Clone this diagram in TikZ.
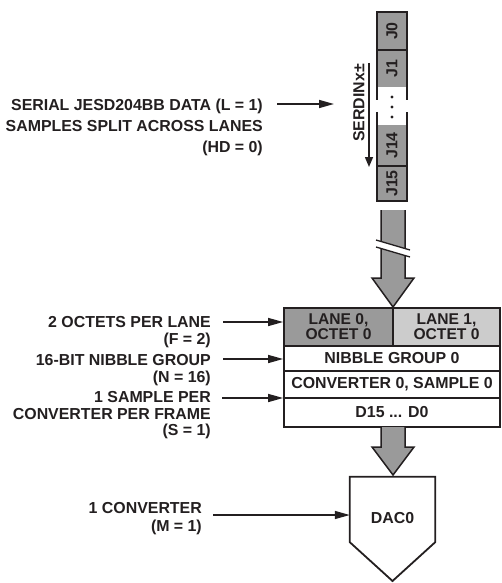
\documentclass[tikz,border=0pt]{standalone}
\usepackage{fontspec}
\setmainfont{Liberation Sans}
\usetikzlibrary{arrows.meta}
\definecolor{ink}{HTML}{231F20}
\definecolor{dgray}{HTML}{9A9A9A}
\definecolor{lgray}{HTML}{CCCCCC}
\begin{document}
\begin{tikzpicture}[x=1pt,y=-1pt,
  every node/.style={font=\fontsize{15.9}{17}\selectfont\bfseries, text=ink},
  lbl/.style={anchor=north east, inner sep=0pt, align=right},
  conn/.style={draw=ink, line width=1.5pt, -{Triangle[length=15pt,width=8pt]}},
  tcell/.style={draw=ink, line width=1.8pt, inner sep=0pt, align=center},
  jb/.style={draw=ink, line width=1.8pt},
  jlab/.style={rotate=90, inner sep=0pt},
  lanefont/.style={font=\fontsize{15.6}{15}\selectfont\bfseries}
]
\useasboundingbox (0,0) rectangle (502,583);

% ---- J column ----
\fill[dgray] (377,12) rectangle (407,87);
\fill[dgray] (377,125) rectangle (407,201);
\draw[jb] (377,100) -- (377,12) -- (407,12) -- (407,100);
\draw[jb] (377,50) -- (407,50);
\draw[jb] (377,112) -- (377,201) -- (407,201) -- (407,112);
\draw[jb] (377,166) -- (407,166);
\node[jlab] (j0) at (392,31) {J0};
\node[jlab] (j1) at (392,68.5) {J1};
\node[jlab] (j14) at (392,145.5) {J14};
\node[jlab] (j15) at (392,183.5) {J15};
\fill[ink] (392,97) circle (1.7);
\fill[ink] (392,107) circle (1.7);
\fill[ink] (392,117) circle (1.7);

% ---- SERDIN ----
\node[rotate=90, inner sep=0pt] (serdin) at (359,103) {SERDINx±};
\coordinate (sa) at (369,63);
\coordinate (sb) at (369,167);
\draw[draw=ink, line width=1.5pt, -{Triangle[length=10pt,width=8pt]}] (sa) -- (sb);

% ---- serial label ----
\node[lbl, font=\fontsize{15.9}{21}\selectfont\bfseries] (lserial) at (263,98.3)
  {SERIAL JESD204BB DATA (L = 1)\\SAMPLES SPLIT ACROSS LANES\\(HD = 0)};
\coordinate (aserial) at (277,104);
\coordinate (eserial) at (334,104);
\draw[conn] (aserial) -- (eserial);

% ---- big arrow 1 with break ----
\path[fill=dgray] (381,210) -- (381,278) -- (372,278) -- (393,307) -- (414,278) -- (405,278) -- (405,210) -- cycle;
\draw[draw=ink, line width=1.5pt, line join=miter] (381,210) -- (381,278) -- (372,278) -- (393,307) -- (414,278) -- (405,278) -- (405,210);
\fill[white] (376,240) -- (410,250) -- (410,257) -- (376,247) -- cycle;
\draw[draw=ink, line width=1.3pt] (376,240) -- (410,250);
\draw[draw=ink, line width=1.3pt] (376,247) -- (410,257);

% ---- table ----
\node[tcell, fill=dgray, minimum width=109pt, minimum height=38pt, lanefont] (lane0) at (338.5,327) {LANE 0,\\OCTET 0};
\node[tcell, fill=lgray, minimum width=107pt, minimum height=38pt, lanefont] (lane1) at (446.5,327) {LANE 1,\\OCTET 0};
\node[tcell, minimum width=216pt, minimum height=25pt] (nib) at (392,358.5) {NIBBLE GROUP 0};
\node[tcell, minimum width=216pt, minimum height=27pt] (conv) at (392,384.5) {CONVERTER 0, SAMPLE 0};
\node[tcell, minimum width=216pt, minimum height=29pt] (dd) at (392,412.5) {D15 ... D0};

% ---- table labels ----
\node[lbl] (lf) at (211,316.3) {2 OCTETS PER LANE\\(F = 2)};
\coordinate (af) at (223,322);
\draw[conn] (af) -- (af -| lane0.west);
\node[lbl] (ln) at (211,354.3) {16-BIT NIBBLE GROUP\\(N = 16)};
\coordinate (an) at (223,359);
\draw[conn] (an) -- (an -| nib.west);
\node[lbl, font=\fontsize{15.9}{16.5}\selectfont\bfseries] (ls) at (211,391.3) {1 SAMPLE PER\\CONVERTER PER FRAME\\(S = 1)};
\coordinate (as) at (222,398);
\draw[conn] (as) -- (as -| conv.west);

% ---- big arrow 2 ----
\path[fill=dgray] (381,427) -- (381,447) -- (372,447) -- (393,475) -- (414,447) -- (405,447) -- (405,427) -- cycle;
\draw[draw=ink, line width=1.5pt, line join=miter] (381,427) -- (381,447) -- (372,447) -- (393,475) -- (414,447) -- (405,447) -- (405,427);

% ---- DAC ----
\node[inner sep=0pt, minimum width=85pt, minimum height=65pt] (dac) at (392.5,509.5) {};
\draw[jb, line join=miter] (dac.north west) -- (dac.north east) -- (dac.south east) -- (392.5,581) -- (dac.south west) -- cycle;
\node (dactext) at (392.5,518) {DAC0};
\node[lbl, font=\fontsize{15.9}{18}\selectfont\bfseries] (lm) at (202,502.3) {1 CONVERTER\\(M = 1)};
\coordinate (am) at (213,515);
\draw[conn] (am) -- (am -| dac.west);
\end{tikzpicture}
\end{document}
